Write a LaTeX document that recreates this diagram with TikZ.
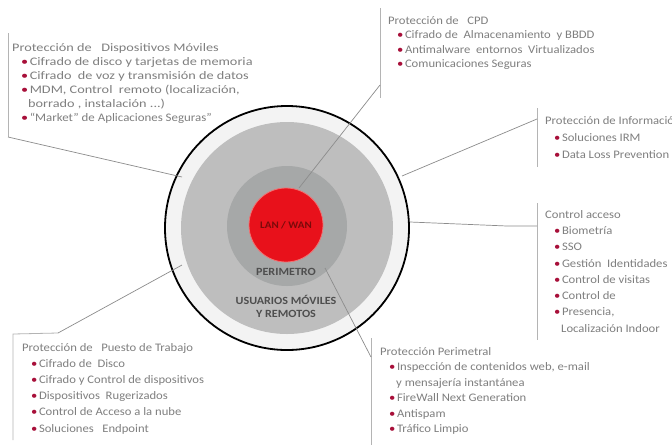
\documentclass[tikz,border=0pt]{standalone}
\usepackage{fontspec}
\setmainfont{Carlito}[FakeStretch=1.1]
\definecolor{txt}{HTML}{7F7F7F}
\definecolor{bul}{HTML}{A8103A}
\definecolor{ln}{HTML}{8C8C8C}
\definecolor{brd}{HTML}{B4B4B4}
\definecolor{ringw}{HTML}{F3F3F3}
\definecolor{gone}{HTML}{BEBEBE}
\definecolor{gtwo}{HTML}{A6A8A8}
\definecolor{redc}{HTML}{E8111B}
\definecolor{redb}{HTML}{F27070}
\definecolor{darkred}{HTML}{7A0A0A}
\definecolor{dg}{HTML}{4E4E4E}
\newcommand\bitem{\hspace*{9pt}\textcolor{bul}{\textbullet}\hspace{1.5pt}}
\newcommand\contline{\hspace*{16pt}}
\begin{document}
\begin{tikzpicture}[x=1pt,y=-1pt,
  box/.style={anchor=north west, inner sep=0pt, align=left, text=txt},
  conn/.style={draw=ln, line width=0.7pt},
  edgeline/.style={draw=brd, line width=0.8pt},
  disc/.style={circle, inner sep=0pt}]
\useasboundingbox (0,0) rectangle (672,445);
\fill[white] (0,0) rectangle (672,445);

% circles
\node[disc, draw=black, line width=1.8pt, fill=ringw, minimum size=244pt] (outer) at (287,228) {};
\node[disc, fill=gone, minimum size=212pt] (ring) at (287,228) {};
\node[disc, fill=gtwo, minimum size=120pt] (mid) at (287,226) {};
\node[disc, fill=redc, draw=redb, line width=0.8pt, minimum size=74pt] (core) at (286,225) {};

\node[font=\bfseries\fontsize{10}{12}\selectfont, text=darkred] (lan) at (core) {LAN / WAN};
\node[font=\bfseries\fontsize{11}{13}\selectfont, text=dg] (per) at (286,272) {PERIMETRO};
\node[font=\bfseries\fontsize{11}{13}\selectfont, text=dg, align=center] (usu) at (286,306) {USUARIOS MÓVILES\\Y REMOTOS};

% text boxes
\node[box, font=\addfontfeature{FakeStretch=1.24}\fontsize{11.5}{14}\selectfont] (mob) at (12,43) {Protección de \ \ Dispositivos Móviles\\
\bitem Cifrado de disco y tarjetas de memoria\\
\bitem Cifrado \ de voz y transmisión de datos\\
\bitem MDM, Control \ remoto (localización,\\
\contline borrado , instalación ...)\\
\bitem {\addfontfeature{FakeStretch=1.12}``Market'' de Aplicaciones Seguras''}};

\node[box, font=\fontsize{11.5}{14.5}\selectfont] (cpd) at (388,16) {Protección de \ \ CPD\\
\bitem Cifrado de \ Almacenamiento \ y BBDD\\
\bitem Antimalware \ entornos \ Virtualizados\\
\bitem Comunicaciones Seguras};

\node[box, font=\fontsize{11.5}{17}\selectfont] (inf) at (545,116) {Protección de Información\\
\bitem Soluciones IRM\\
\bitem Data Loss Prevention};

\node[box, font=\fontsize{11.5}{16.3}\selectfont] (acc) at (545,210) {Control acceso\\
\bitem Biometría\\
\bitem SSO\\
\bitem Gestión \ Identidades\\
\bitem Control de visitas\\
\bitem Control de\\
\bitem Presencia,\\
\contline Localización Indoor};

\node[box, font=\fontsize{11.5}{16.2}\selectfont] (pue) at (22,343) {Protección de \ \ Puesto de Trabajo\\
\bitem Cifrado de \ Disco\\
\bitem Cifrado y Control de dispositivos\\
\bitem Dispositivos \ Rugerizados\\
\bitem Control de Acceso a la nube\\
\bitem Soluciones \ \ Endpoint};

\node[box, font=\fontsize{11.5}{15.5}\selectfont] (prm) at (380,347) {Protección Perimetral\\
\bitem Inspección de contenidos web, e-mail\\
\contline y mensajería instantánea\\
\bitem FireWall Next Generation\\
\bitem Antispam\\
\bitem Tráfico Limpio};

% box borders and connector ends
\coordinate (mobT) at (8,33);
\coordinate (mobB) at (8,137);
\coordinate (mobC) at (182,177);
\draw[edgeline] (mobT) -- (mobB);
\draw[conn] (mobB) -- (mobC);

\coordinate (cpdT) at (380,8);
\coordinate (cpdB) at (380,98);
\coordinate (cpdJ) at (380,85);
\coordinate (cpdC) at (299,188);
\draw[edgeline] (cpdT) -- (cpdB);
\draw[conn] (cpdJ) -- (cpdC);

\coordinate (infT) at (537,108);
\coordinate (infB) at (537,167);
\coordinate (infJ) at (537,119);
\coordinate (infC) at (402,176);
\draw[edgeline] (infT) -- (infB);
\draw[conn] (infJ) -- (infC);

\coordinate (accT) at (537,203);
\coordinate (accB) at (537,340);
\coordinate (accJ) at (537,226);
\coordinate (accK) at (507,226);
\coordinate (accC) at (410,222);
\draw[edgeline] (accT) -- (accB);
\draw[conn] (accJ) -- (accK) -- (accC);

\coordinate (pueB) at (13,440);
\coordinate (pueT) at (13,334);
\coordinate (pueK) at (58,333);
\coordinate (pueC) at (182,265);
\draw[edgeline] (pueB) -- (pueT) -- (pueK);
\draw[conn] (pueK) -- (pueC);

\coordinate (prmT) at (371,338);
\coordinate (prmB) at (371,445);
\coordinate (prmJ) at (371,357);
\coordinate (prmC) at (325,268);
\draw[edgeline] (prmT) -- (prmB);
\draw[conn] (prmJ) -- (prmC);
\end{tikzpicture}
\end{document}
